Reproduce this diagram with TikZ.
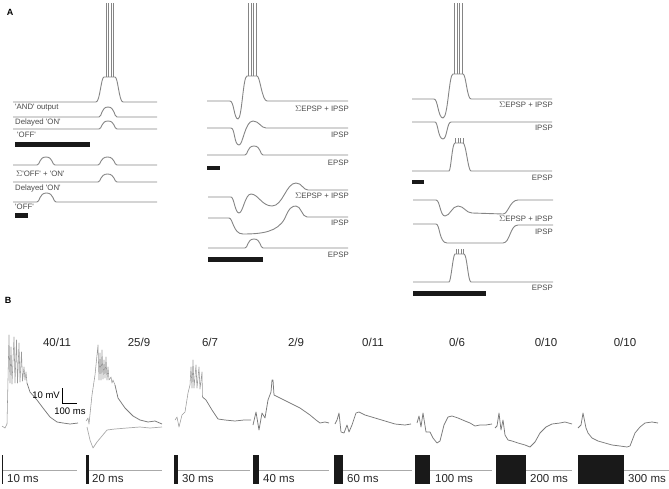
\documentclass[tikz,border=0pt]{standalone}
\usepackage{fontspec}
\setmainfont{Liberation Sans}
\definecolor{trc}{HTML}{858585}
\definecolor{rec}{HTML}{7A7A7A}
\definecolor{spkc}{HTML}{999999}
\definecolor{lite}{HTML}{AAAAAA}
\definecolor{labc}{HTML}{4A4A4A}
\begin{document}
\begin{tikzpicture}[x=1pt,y=-1pt,
  tr/.style={draw=trc,line width=0.9pt,line join=round},
  spk/.style={draw=trc,line width=0.6pt},
  rc/.style={draw=rec,line width=0.75pt,line join=round},
  rcs/.style={draw=spkc,line width=0.55pt,line join=round},
  rcl/.style={draw=lite,line width=0.7pt,line join=round},
  stim/.style={draw=lite,line width=0.7pt},
  barfill/.style={fill=black!90,draw=none},
  lab/.style={font=\fontsize{7.8}{8}\selectfont,text=labc,inner sep=0pt},
  labr/.style={lab,anchor=east},
  labl/.style={lab,anchor=west},
  frac/.style={font=\fontsize{11.5}{12}\selectfont,text=black!85,inner sep=0pt},
  ms/.style={font=\fontsize{11.5}{12}\selectfont,text=black!85,inner sep=0pt,anchor=west},
  panel/.style={font=\bfseries\fontsize{9}{10}\selectfont,inner sep=0pt}]
\useasboundingbox (0,0) rectangle (669,489);

% ---------- panel labels
\node[panel] (pA) at (10,12) {A};
\node[panel] (pB) at (8,300) {B};

% ---------- Panel A, left column
\draw[tr] (13,102) -- (96,102) .. controls (100,102) and (101,77) .. (104,77) -- (115,77) .. controls (118,77) and (119,102) .. (123,102) -- (157,102);
\foreach \s in {106,108.5,111,113.5} \draw[spk] (\s,77) -- (\s,3);
\node[labl] (l1) at (15,108) {\textquotesingle AND\textquotesingle\ output};
\draw[tr] (13,117) -- (99,117) .. controls (102,117) and (101,107) .. (108,107) .. controls (115,107) and (114,117) .. (117,117) -- (157,117);
\node[labl] (l2) at (15,122) {Delayed \textquotesingle ON\textquotesingle};
\draw[tr] (13,129) -- (99,129) .. controls (102,129) and (101,121) .. (108,121) .. controls (115,121) and (114,129) .. (117,129) -- (157,129);
\node[labl] (l3) at (17,135) {\textquotesingle OFF\textquotesingle};
\fill[barfill] (15,142) rectangle (90,147);

\draw[tr] (13,165) -- (37,165) .. controls (40,165) and (39,157) .. (46,157) .. controls (53,157) and (52,165) .. (55,165) -- (98,165) .. controls (101,165) and (100,157) .. (107.5,157) .. controls (115,157) and (114,165) .. (117,165) -- (157,165);
\node[labl] (l4) at (16,174) {$\Sigma$\textquotesingle OFF\textquotesingle\ + \textquotesingle ON\textquotesingle};
\draw[tr] (13,182) -- (98,182) .. controls (101,182) and (100,174) .. (107.5,174) .. controls (115,174) and (114,182) .. (117,182) -- (157,182);
\node[labl] (l5) at (15,188) {Delayed \textquotesingle ON\textquotesingle};
\draw[tr] (13,202) -- (37,202) .. controls (40,202) and (39,193) .. (46.5,193) .. controls (54,193) and (53,202) .. (56,202) -- (157,202);
\node[labl] (l6) at (15,207) {\textquotesingle OFF\textquotesingle};
\fill[barfill] (15,213) rectangle (28,218);

% ---------- Panel A, middle column
\draw[tr] (207,101) -- (230,101) .. controls (234,101) and (234,119) .. (238,119) .. controls (242,119) and (243,76) .. (247,76) -- (257,76) .. controls (260,76) and (262,101) .. (267,101) -- (348,101);
\foreach \s in {248.5,251,253.5,256} \draw[spk] (\s,76) -- (\s,3);
\node[labr] (m1) at (349,109) {$\Sigma$EPSP + IPSP};
\draw[tr] (207,128) -- (231,128) .. controls (235,128) and (234,145) .. (239,145) .. controls (243,145) and (245,121) .. (253,121) .. controls (259,121) and (261,128) .. (266,128) -- (348,128);
\node[labr] (m2) at (349,135) {IPSP};
\draw[tr] (207,155) -- (245,155) .. controls (248,155) and (247,146) .. (254,146) .. controls (261,146) and (260,155) .. (263,155) -- (348,155);
\node[labr] (m3) at (349,163) {EPSP};
\fill[barfill] (207,166) rectangle (220,170);

\draw[tr] (208,197) -- (231,197) .. controls (234,197) and (235,213) .. (239,213) .. controls (243,213) and (245,194) .. (251,194) .. controls (258,194) and (262,206) .. (272,206) .. controls (283,206) and (286,183) .. (296,183) .. controls (302,183) and (303,190) .. (308,190) -- (348,190);
\node[labr] (m4) at (349,196) {$\Sigma$EPSP + IPSP};
\draw[tr] (208,218) -- (229,218) .. controls (233,218) and (233,234) .. (243,234) .. controls (262,234) and (278,232) .. (285,218) .. controls (289,208) and (292,206) .. (296,206) .. controls (301,206) and (302,217) .. (307,217) -- (348,217);
\node[labr] (m5) at (349,223) {IPSP};
\draw[tr] (208,248) -- (245,248) .. controls (248,248) and (247,239) .. (254,239) .. controls (261,239) and (260,248) .. (263,248) -- (348,248);
\node[labr] (m6) at (349,255) {EPSP};
\fill[barfill] (208,257) rectangle (263,262);

% ---------- Panel A, right column
\draw[tr] (412,99) -- (434,99) .. controls (438,99) and (438,118) .. (443,118) .. controls (448,118) and (449,74) .. (453,74) -- (463,74) .. controls (466,74) and (467,99) .. (471,99) -- (552,99);
\foreach \s in {454.5,457,459.5,462} \draw[spk] (\s,74) -- (\s,3);
\node[labr] (r1) at (553,105) {$\Sigma$EPSP + IPSP};
\draw[tr] (412,122) -- (435,122) .. controls (438,122) and (438,139) .. (443,139) .. controls (447,139) and (447,122) .. (451,122) -- (552,122);
\node[labr] (r2) at (553,128) {IPSP};
\draw[tr] (412,171) -- (449,171) .. controls (451,171) and (452,143) .. (455,143) -- (463,143) .. controls (466,143) and (468,171) .. (471,171) -- (552,171);
\foreach \s in {455.5,458,460.5,463} \draw[spk] (\s,143) -- (\s,138);
\node[labr] (r3) at (553,178) {EPSP};
\fill[barfill] (412,180) rectangle (424,184);

\draw[tr] (413,200) -- (436,200) .. controls (440,200) and (440,216) .. (445,216) .. controls (450,216) and (452,206) .. (458,206) .. controls (464,206) and (466,213) .. (472,213) -- (503,214) .. controls (508,214) and (510,200) .. (518,200) -- (553,200);
\node[labr] (r4) at (553,219) {$\Sigma$EPSP + IPSP};
\draw[tr] (413,224) -- (436,224) .. controls (440,224) and (439,243) .. (447,243) -- (503,243) .. controls (510,243) and (510,225) .. (518,225) -- (553,225);
\node[labr] (r5) at (553,232) {IPSP};
\draw[tr] (413,282) -- (449,282) .. controls (451,282) and (453,254) .. (455,254) -- (464,254) .. controls (467,254) and (468,282) .. (471,282) -- (553,282);
\foreach \s in {456,458.5,461,463.5} \draw[spk] (\s,254) -- (\s,249);
\node[labr] (r6) at (553,288) {EPSP};
\fill[barfill] (413,291) rectangle (486,296);

% ---------- Panel B: response counts
\node[frac] (f1) at (57,342) {40/11};
\node[frac] (f2) at (139,342) {25/9};
\node[frac] (f3) at (210,342) {6/7};
\node[frac] (f4) at (296,342) {2/9};
\node[frac] (f5) at (373,342) {0/11};
\node[frac] (f6) at (457,342) {0/6};
\node[frac] (f7) at (546,342) {0/10};
\node[frac] (f8) at (625,342) {0/10};

% ---------- Panel B: recordings
\draw[rcs] (2,426) -- (5,428) -- (7,424) -- (9,335) -- (10,383) -- (11,347) -- (12,384) -- (14,337) -- (15,383) -- (16.5,340) -- (17.5,383) -- (19,343) -- (20,382) -- (21.5,352) -- (22.5,381) -- (24,367) -- (25,380) -- (26,372) -- (27,383);
\draw[rc] (27,383) -- (30,392) -- (37,400) -- (43,408) -- (50,417) -- (57,422) -- (63,423) -- (70,424) -- (78,423);
\draw[rcl] (87,427) -- (90,440) -- (93,448) -- (97,442) -- (102,436) -- (107,430) -- (115,429) -- (127,428) -- (140,427) -- (150,428) -- (162,427);
\draw[rcs] (86,421) -- (88,418) -- (89,424) -- (92,395) -- (95,375) -- (98,345) -- (99,380) -- (100,353) -- (101,380) -- (102,350) -- (103,379) -- (104,360) -- (105,378) -- (106,357) -- (107,380) -- (108,367) -- (109,380) -- (111,377) -- (112,383) -- (113,380) -- (115,385);
\draw[rc] (115,385) -- (118,398) -- (125,408) -- (133,416) -- (140,420) -- (148,422) -- (155,421) -- (162,424);
\draw[rcs] (175,420) -- (177,417) -- (179,427) -- (182,415) -- (185,412) -- (188,393) -- (190,385) -- (191,367) -- (192,388) -- (193,360) -- (194,388) -- (196,365) -- (197,388) -- (199,367) -- (200,389) -- (202,372) -- (202.5,397);
\draw[rc] (202.5,397) -- (206,400) -- (212,410) -- (218,419) -- (225,420) -- (235,421) -- (244,420) -- (251,420);
\draw[rc] (253,425) -- (256,412) -- (259,430) -- (262,413) -- (265,418) -- (268,400) -- (271,392) -- (272,380) -- (273,380) -- (274,395) -- (280,398) -- (290,403) -- (300,408) -- (310,415) -- (316,420) -- (320,423) -- (325,422) -- (329,423);
\draw[rc] (335,424) -- (337,420) -- (339,413) -- (341,432) -- (344,433) -- (347,425) -- (349,432) -- (352,425) -- (356,413) -- (359,412) -- (365,415) -- (375,418) -- (385,421) -- (395,424) -- (405,425) -- (411,424);
\draw[rc] (417,423) -- (419,416) -- (421,427) -- (423,413) -- (426,432) -- (430,432) -- (433,438) -- (437,443) -- (440,441) -- (444,425) -- (448,417) -- (452,416) -- (458,418) -- (465,421) -- (470,423) -- (475,426) -- (480,425) -- (486,425) -- (492,424);
\draw[rc] (495,428) -- (497,426) -- (499,413) -- (501,430) -- (503,420) -- (505,435) -- (508,440) -- (512,441) -- (518,443) -- (525,445) -- (530,447) -- (535,442) -- (540,433) -- (546,427) -- (552,424) -- (560,423) -- (565,422) -- (572,424);
\draw[rc] (578,428) -- (581,425) -- (583,413) -- (586,428) -- (588,433) -- (592,438) -- (598,441) -- (605,443) -- (612,445) -- (620,446) -- (627,447) -- (630,446) -- (635,433) -- (640,427) -- (645,423) -- (652,422) -- (658,423);

% ---------- scale bar
\coordinate (sbt) at (62,388);
\coordinate (sbc) at (62,403);
\coordinate (sbr) at (77,403);
\draw[black,line width=1pt] (sbt) -- (sbc) -- (sbr);
\node[font=\fontsize{9.5}{10}\selectfont,inner sep=0pt,anchor=east] (smv) at (60,395) {10 mV};
\node[font=\fontsize{9.5}{10}\selectfont,inner sep=0pt] (sms) at (70,411) {100 ms};

% ---------- stimulus bars
\fill[barfill] (2,455) rectangle (3.3,484);
\fill[barfill] (86,455) rectangle (88.5,484);
\fill[barfill] (174,455) rectangle (178,484);
\fill[barfill] (253,455) rectangle (259,484);
\fill[barfill] (334,455) rectangle (343,484);
\fill[barfill] (415,455) rectangle (430,484);
\fill[barfill] (496,455) rectangle (526,484);
\fill[barfill] (578,455) rectangle (624,484);
\draw[stim] (3.3,470) -- (77,470);
\draw[stim] (88.5,470) -- (162,470);
\draw[stim] (178,470) -- (250,470);
\draw[stim] (259,470) -- (329,470);
\draw[stim] (343,470) -- (412,470);
\draw[stim] (430,470) -- (492,470);
\draw[stim] (526,470) -- (572,470);
\draw[stim] (624,470) -- (669,470);
\node[ms] (d1) at (7,479) {10 ms};
\node[ms] (d2) at (92,479) {20 ms};
\node[ms] (d3) at (182,479) {30 ms};
\node[ms] (d4) at (263,479) {40 ms};
\node[ms] (d5) at (347,479) {60 ms};
\node[ms] (d6) at (435,479) {100 ms};
\node[ms] (d7) at (530,479) {200 ms};
\node[ms] (d8) at (628,479) {300 ms};
\end{tikzpicture}
\end{document}
